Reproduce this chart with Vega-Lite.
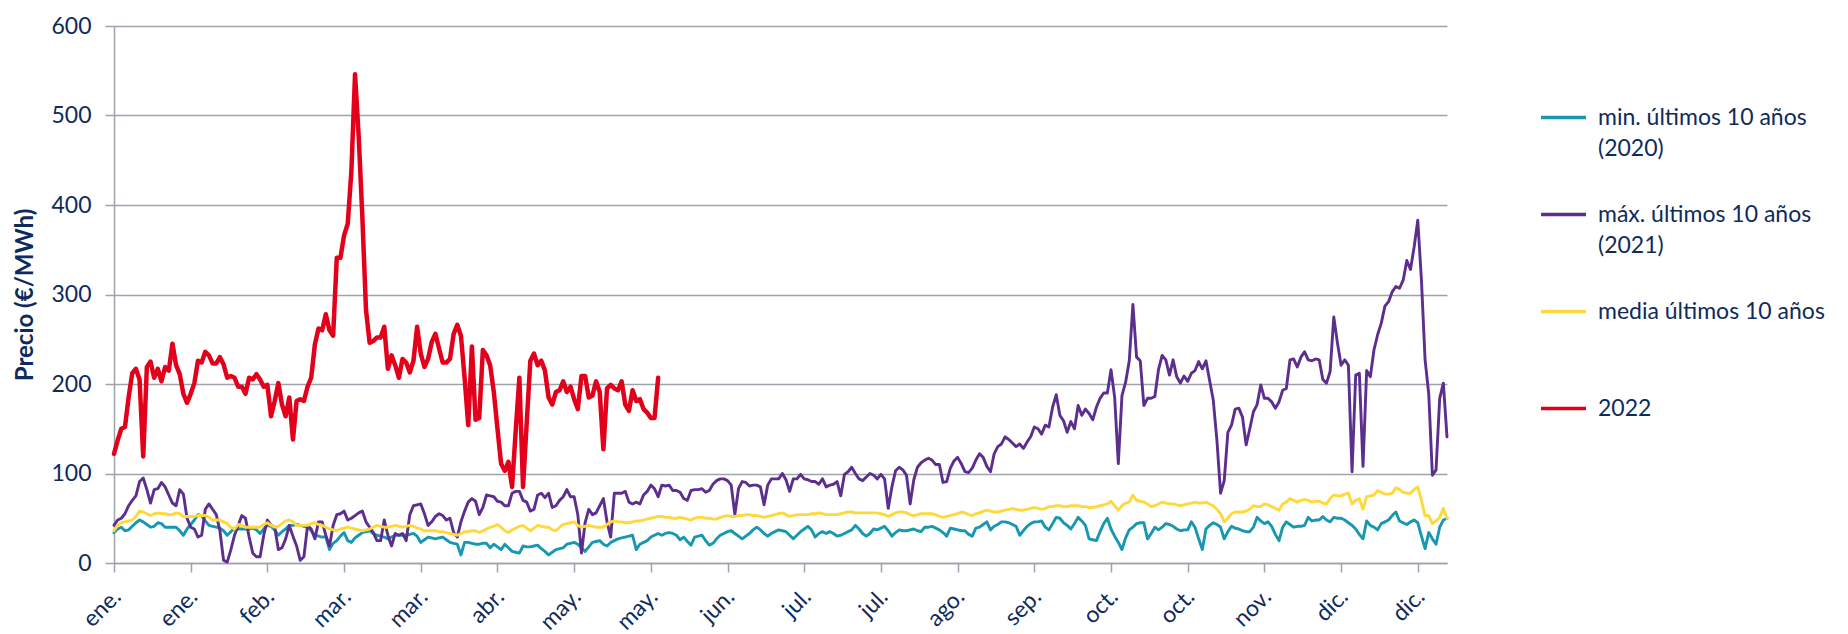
{
"$schema":"https://vega.github.io/schema/vega-lite/v6.json",
"autosize":"none",
"width":1333,"height":537,
"padding":{"left":114,"top":26,"right":401,"bottom":71},
"background":"white",
"config":{"font":"Lato","view":{"stroke":null},"style":{"guide-label":{"lineHeight":31}}},
"datasets":{
"mn":[{"d":1,"v":34},{"d":2,"v":38},{"d":3,"v":40},{"d":4,"v":36},{"d":5,"v":37},{"d":6,"v":41},{"d":7,"v":45},{"d":8,"v":48},{"d":9,"v":46},{"d":10,"v":43},
{"d":11,"v":40},{"d":12,"v":41},{"d":13,"v":45},{"d":14,"v":44},{"d":15,"v":40},{"d":16,"v":40},{"d":17,"v":40},{"d":18,"v":40},{"d":19,"v":36},{"d":20,"v":31},
{"d":21,"v":38},{"d":22,"v":43},{"d":23,"v":48},{"d":24,"v":54},{"d":25,"v":53},{"d":26,"v":47},{"d":27,"v":42},{"d":28,"v":41},{"d":29,"v":40},{"d":30,"v":39},
{"d":31,"v":36},{"d":32,"v":31},{"d":33,"v":35},{"d":34,"v":39},{"d":35,"v":38},{"d":36,"v":38},{"d":37,"v":38},{"d":38,"v":38},{"d":39,"v":39},{"d":40,"v":37},
{"d":41,"v":33},{"d":42,"v":38},{"d":43,"v":42},{"d":44,"v":41},{"d":45,"v":37},{"d":46,"v":31},{"d":47,"v":35},{"d":48,"v":38},{"d":49,"v":42},{"d":50,"v":42},
{"d":51,"v":43},{"d":52,"v":42},{"d":53,"v":41},{"d":54,"v":40},{"d":55,"v":36},{"d":56,"v":31},{"d":57,"v":30},{"d":58,"v":29},{"d":59,"v":29},{"d":60,"v":15},
{"d":61,"v":22},{"d":62,"v":25},{"d":63,"v":30},{"d":64,"v":34},{"d":65,"v":25},{"d":66,"v":23},{"d":67,"v":28},{"d":68,"v":31},{"d":69,"v":34},{"d":70,"v":35},
{"d":71,"v":36},{"d":72,"v":33},{"d":73,"v":31},{"d":74,"v":30},{"d":75,"v":29},{"d":76,"v":27},{"d":77,"v":29},{"d":78,"v":31},{"d":79,"v":31},{"d":80,"v":31},
{"d":81,"v":31},{"d":82,"v":32},{"d":83,"v":33},{"d":84,"v":30},{"d":85,"v":23},{"d":86,"v":26},{"d":87,"v":29},{"d":88,"v":28},{"d":89,"v":27},{"d":90,"v":28},
{"d":91,"v":29},{"d":92,"v":26},{"d":93,"v":23},{"d":94,"v":22},{"d":95,"v":21},{"d":96,"v":9},{"d":97,"v":23},{"d":98,"v":23},{"d":99,"v":22},{"d":100,"v":21},
{"d":101,"v":21},{"d":102,"v":22},{"d":103,"v":22},{"d":104,"v":17},{"d":105,"v":21},{"d":106,"v":18},{"d":107,"v":15},{"d":108,"v":21},{"d":109,"v":17},{"d":110,"v":13},
{"d":111,"v":12},{"d":112,"v":11},{"d":113,"v":19},{"d":114,"v":18},{"d":115,"v":18},{"d":116,"v":19},{"d":117,"v":20},{"d":118,"v":16},{"d":119,"v":13},{"d":120,"v":9},
{"d":121,"v":12},{"d":122,"v":15},{"d":123,"v":16},{"d":124,"v":17},{"d":125,"v":21},{"d":126,"v":22},{"d":127,"v":23},{"d":128,"v":21},{"d":129,"v":17},{"d":130,"v":13},
{"d":131,"v":18},{"d":132,"v":23},{"d":133,"v":24},{"d":134,"v":25},{"d":135,"v":21},{"d":136,"v":19},{"d":137,"v":23},{"d":138,"v":25},{"d":139,"v":27},{"d":140,"v":28},
{"d":141,"v":29},{"d":142,"v":30},{"d":143,"v":31},{"d":144,"v":15},{"d":145,"v":21},{"d":146,"v":23},{"d":147,"v":25},{"d":148,"v":29},{"d":149,"v":31},{"d":150,"v":33},
{"d":151,"v":31},{"d":152,"v":33},{"d":153,"v":34},{"d":154,"v":33},{"d":155,"v":31},{"d":156,"v":26},{"d":157,"v":29},{"d":158,"v":24},{"d":159,"v":20},{"d":160,"v":29},
{"d":161,"v":30},{"d":162,"v":31},{"d":163,"v":25},{"d":164,"v":20},{"d":165,"v":22},{"d":166,"v":27},{"d":167,"v":31},{"d":168,"v":33},{"d":169,"v":35},{"d":170,"v":36},
{"d":171,"v":33},{"d":172,"v":30},{"d":173,"v":27},{"d":174,"v":30},{"d":175,"v":33},{"d":176,"v":37},{"d":177,"v":40},{"d":178,"v":37},{"d":179,"v":33},{"d":180,"v":30},
{"d":181,"v":33},{"d":182,"v":35},{"d":183,"v":37},{"d":184,"v":36},{"d":185,"v":35},{"d":186,"v":31},{"d":187,"v":27},{"d":188,"v":31},{"d":189,"v":35},{"d":190,"v":38},
{"d":191,"v":41},{"d":192,"v":37},{"d":193,"v":29},{"d":194,"v":33},{"d":195,"v":35},{"d":196,"v":33},{"d":197,"v":35},{"d":198,"v":33},{"d":199,"v":30},{"d":200,"v":31},
{"d":201,"v":33},{"d":202,"v":35},{"d":203,"v":37},{"d":204,"v":42},{"d":205,"v":38},{"d":206,"v":33},{"d":207,"v":30},{"d":208,"v":33},{"d":209,"v":38},{"d":210,"v":37},
{"d":211,"v":39},{"d":212,"v":41},{"d":213,"v":36},{"d":214,"v":30},{"d":215,"v":34},{"d":216,"v":37},{"d":217,"v":36},{"d":218,"v":36},{"d":219,"v":37},{"d":220,"v":38},
{"d":221,"v":36},{"d":222,"v":35},{"d":223,"v":40},{"d":224,"v":40},{"d":225,"v":41},{"d":226,"v":39},{"d":227,"v":37},{"d":228,"v":34},{"d":229,"v":30},{"d":230,"v":39},
{"d":231,"v":38},{"d":232,"v":37},{"d":233,"v":36},{"d":234,"v":36},{"d":235,"v":32},{"d":236,"v":30},{"d":237,"v":39},{"d":238,"v":40},{"d":239,"v":43},{"d":240,"v":46},
{"d":241,"v":37},{"d":242,"v":41},{"d":243,"v":43},{"d":244,"v":46},{"d":245,"v":46},{"d":246,"v":45},{"d":247,"v":43},{"d":248,"v":41},{"d":249,"v":31},{"d":250,"v":36},
{"d":251,"v":41},{"d":252,"v":44},{"d":253,"v":46},{"d":254,"v":46},{"d":255,"v":47},{"d":256,"v":40},{"d":257,"v":37},{"d":258,"v":44},{"d":259,"v":51},{"d":260,"v":50},
{"d":261,"v":45},{"d":262,"v":42},{"d":263,"v":38},{"d":264,"v":44},{"d":265,"v":51},{"d":266,"v":47},{"d":267,"v":42},{"d":268,"v":27},{"d":269,"v":26},{"d":270,"v":25},
{"d":271,"v":35},{"d":272,"v":44},{"d":273,"v":50},{"d":274,"v":38},{"d":275,"v":30},{"d":276,"v":23},{"d":277,"v":15},{"d":278,"v":28},{"d":279,"v":37},{"d":280,"v":40},
{"d":281,"v":44},{"d":282,"v":45},{"d":283,"v":45},{"d":284,"v":27},{"d":285,"v":33},{"d":286,"v":40},{"d":287,"v":37},{"d":288,"v":40},{"d":289,"v":44},{"d":290,"v":43},
{"d":291,"v":41},{"d":292,"v":38},{"d":293,"v":36},{"d":294,"v":37},{"d":295,"v":37},{"d":296,"v":46},{"d":297,"v":40},{"d":298,"v":27},{"d":299,"v":15},{"d":300,"v":38},
{"d":301,"v":42},{"d":302,"v":45},{"d":303,"v":43},{"d":304,"v":40},{"d":305,"v":27},{"d":306,"v":35},{"d":307,"v":41},{"d":308,"v":39},{"d":309,"v":38},{"d":310,"v":36},
{"d":311,"v":35},{"d":312,"v":35},{"d":313,"v":40},{"d":314,"v":51},{"d":315,"v":47},{"d":316,"v":44},{"d":317,"v":46},{"d":318,"v":41},{"d":319,"v":32},{"d":320,"v":25},
{"d":321,"v":40},{"d":322,"v":46},{"d":323,"v":43},{"d":324,"v":40},{"d":325,"v":41},{"d":326,"v":41},{"d":327,"v":42},{"d":328,"v":51},{"d":329,"v":47},{"d":330,"v":48},
{"d":331,"v":48},{"d":332,"v":52},{"d":333,"v":48},{"d":334,"v":46},{"d":335,"v":51},{"d":336,"v":50},{"d":337,"v":50},{"d":338,"v":48},{"d":339,"v":45},{"d":340,"v":42},
{"d":341,"v":38},{"d":342,"v":32},{"d":343,"v":27},{"d":344,"v":47},{"d":345,"v":42},{"d":346,"v":40},{"d":347,"v":37},{"d":348,"v":44},{"d":349,"v":46},{"d":350,"v":48},
{"d":351,"v":53},{"d":352,"v":57},{"d":353,"v":47},{"d":354,"v":45},{"d":355,"v":43},{"d":356,"v":46},{"d":357,"v":48},{"d":358,"v":45},{"d":359,"v":30},{"d":360,"v":16},
{"d":361,"v":34},{"d":362,"v":27},{"d":363,"v":21},{"d":364,"v":40},{"d":365,"v":48},{"d":366,"v":50}],
"mx":[{"d":1,"v":42},{"d":2,"v":48},{"d":3,"v":50},{"d":4,"v":55},{"d":5,"v":64},{"d":6,"v":70},{"d":7,"v":75},{"d":8,"v":91},{"d":9,"v":95},{"d":10,"v":82},
{"d":11,"v":67},{"d":12,"v":82},{"d":13,"v":83},{"d":14,"v":90},{"d":15,"v":85},{"d":16,"v":76},{"d":17,"v":67},{"d":18,"v":64},{"d":19,"v":82},{"d":20,"v":77},
{"d":21,"v":50},{"d":22,"v":40},{"d":23,"v":38},{"d":24,"v":29},{"d":25,"v":31},{"d":26,"v":60},{"d":27,"v":66},{"d":28,"v":60},{"d":29,"v":54},{"d":30,"v":36},
{"d":31,"v":3},{"d":32,"v":1},{"d":33,"v":15},{"d":34,"v":31},{"d":35,"v":42},{"d":36,"v":53},{"d":37,"v":50},{"d":38,"v":29},{"d":39,"v":11},{"d":40,"v":7},
{"d":41,"v":7},{"d":42,"v":31},{"d":43,"v":48},{"d":44,"v":42},{"d":45,"v":40},{"d":46,"v":15},{"d":47,"v":17},{"d":48,"v":27},{"d":49,"v":42},{"d":50,"v":30},
{"d":51,"v":19},{"d":52,"v":3},{"d":53,"v":7},{"d":54,"v":42},{"d":55,"v":38},{"d":56,"v":27},{"d":57,"v":46},{"d":58,"v":46},{"d":59,"v":31},{"d":60,"v":19},
{"d":61,"v":42},{"d":62,"v":54},{"d":63,"v":55},{"d":64,"v":58},{"d":65,"v":48},{"d":66,"v":50},{"d":67,"v":53},{"d":68,"v":56},{"d":69,"v":58},{"d":70,"v":46},
{"d":71,"v":40},{"d":72,"v":34},{"d":73,"v":25},{"d":74,"v":25},{"d":75,"v":48},{"d":76,"v":31},{"d":77,"v":19},{"d":78,"v":33},{"d":79,"v":31},{"d":80,"v":33},
{"d":81,"v":25},{"d":82,"v":54},{"d":83,"v":64},{"d":84,"v":65},{"d":85,"v":66},{"d":86,"v":55},{"d":87,"v":42},{"d":88,"v":46},{"d":89,"v":52},{"d":90,"v":55},
{"d":91,"v":53},{"d":92,"v":48},{"d":93,"v":50},{"d":94,"v":34},{"d":95,"v":29},{"d":96,"v":46},{"d":97,"v":58},{"d":98,"v":68},{"d":99,"v":72},{"d":100,"v":69},
{"d":101,"v":54},{"d":102,"v":62},{"d":103,"v":76},{"d":104,"v":75},{"d":105,"v":74},{"d":106,"v":69},{"d":107,"v":68},{"d":108,"v":64},{"d":109,"v":64},{"d":110,"v":78},
{"d":111,"v":80},{"d":112,"v":80},{"d":113,"v":70},{"d":114,"v":68},{"d":115,"v":58},{"d":116,"v":60},{"d":117,"v":76},{"d":118,"v":78},{"d":119,"v":73},{"d":120,"v":78},
{"d":121,"v":62},{"d":122,"v":64},{"d":123,"v":70},{"d":124,"v":74},{"d":125,"v":82},{"d":126,"v":74},{"d":127,"v":74},{"d":128,"v":54},{"d":129,"v":11},{"d":130,"v":45},
{"d":131,"v":60},{"d":132,"v":54},{"d":133,"v":56},{"d":134,"v":64},{"d":135,"v":72},{"d":136,"v":46},{"d":137,"v":29},{"d":138,"v":78},{"d":139,"v":78},{"d":140,"v":78},
{"d":141,"v":80},{"d":142,"v":68},{"d":143,"v":66},{"d":144,"v":68},{"d":145,"v":66},{"d":146,"v":76},{"d":147,"v":80},{"d":148,"v":87},{"d":149,"v":83},{"d":150,"v":74},
{"d":151,"v":87},{"d":152,"v":86},{"d":153,"v":87},{"d":154,"v":81},{"d":155,"v":81},{"d":156,"v":79},{"d":157,"v":72},{"d":158,"v":70},{"d":159,"v":81},{"d":160,"v":82},
{"d":161,"v":82},{"d":162,"v":83},{"d":163,"v":79},{"d":164,"v":81},{"d":165,"v":88},{"d":166,"v":92},{"d":167,"v":94},{"d":168,"v":94},{"d":169,"v":92},{"d":170,"v":87},
{"d":171,"v":54},{"d":172,"v":83},{"d":173,"v":91},{"d":174,"v":90},{"d":175,"v":86},{"d":176,"v":87},{"d":177,"v":87},{"d":178,"v":85},{"d":179,"v":65},{"d":180,"v":87},
{"d":181,"v":94},{"d":182,"v":94},{"d":183,"v":94},{"d":184,"v":100},{"d":185,"v":93},{"d":186,"v":80},{"d":187,"v":94},{"d":188,"v":94},{"d":189,"v":99},{"d":190,"v":94},
{"d":191,"v":93},{"d":192,"v":91},{"d":193,"v":91},{"d":194,"v":88},{"d":195,"v":94},{"d":196,"v":85},{"d":197,"v":87},{"d":198,"v":88},{"d":199,"v":91},{"d":200,"v":75},
{"d":201,"v":99},{"d":202,"v":102},{"d":203,"v":107},{"d":204,"v":100},{"d":205,"v":94},{"d":206,"v":92},{"d":207,"v":96},{"d":208,"v":100},{"d":209,"v":98},{"d":210,"v":94},
{"d":211,"v":99},{"d":212,"v":94},{"d":213,"v":61},{"d":214,"v":85},{"d":215,"v":103},{"d":216,"v":107},{"d":217,"v":104},{"d":218,"v":98},{"d":219,"v":66},{"d":220,"v":93},
{"d":221,"v":107},{"d":222,"v":112},{"d":223,"v":115},{"d":224,"v":117},{"d":225,"v":115},{"d":226,"v":110},{"d":227,"v":110},{"d":228,"v":90},{"d":229,"v":91},{"d":230,"v":106},
{"d":231,"v":114},{"d":232,"v":118},{"d":233,"v":111},{"d":234,"v":102},{"d":235,"v":101},{"d":236,"v":106},{"d":237,"v":115},{"d":238,"v":122},{"d":239,"v":118},{"d":240,"v":108},
{"d":241,"v":102},{"d":242,"v":122},{"d":243,"v":130},{"d":244,"v":133},{"d":245,"v":141},{"d":246,"v":138},{"d":247,"v":134},{"d":248,"v":130},{"d":249,"v":133},{"d":250,"v":128},
{"d":251,"v":135},{"d":252,"v":141},{"d":253,"v":152},{"d":254,"v":150},{"d":255,"v":144},{"d":256,"v":154},{"d":257,"v":152},{"d":258,"v":174},{"d":259,"v":188},{"d":260,"v":165},
{"d":261,"v":159},{"d":262,"v":146},{"d":263,"v":158},{"d":264,"v":150},{"d":265,"v":176},{"d":266,"v":165},{"d":267,"v":172},{"d":268,"v":167},{"d":269,"v":160},{"d":270,"v":174},
{"d":271,"v":184},{"d":272,"v":190},{"d":273,"v":190},{"d":274,"v":216},{"d":275,"v":185},{"d":276,"v":111},{"d":277,"v":187},{"d":278,"v":202},{"d":279,"v":226},{"d":280,"v":289},
{"d":281,"v":230},{"d":282,"v":226},{"d":283,"v":176},{"d":284,"v":184},{"d":285,"v":184},{"d":286,"v":186},{"d":287,"v":216},{"d":288,"v":232},{"d":289,"v":227},{"d":290,"v":210},
{"d":291,"v":227},{"d":292,"v":208},{"d":293,"v":201},{"d":294,"v":209},{"d":295,"v":203},{"d":296,"v":212},{"d":297,"v":215},{"d":298,"v":225},{"d":299,"v":217},{"d":300,"v":226},
{"d":301,"v":204},{"d":302,"v":182},{"d":303,"v":137},{"d":304,"v":78},{"d":305,"v":92},{"d":306,"v":146},{"d":307,"v":154},{"d":308,"v":172},{"d":309,"v":173},{"d":310,"v":163},
{"d":311,"v":132},{"d":312,"v":150},{"d":313,"v":169},{"d":314,"v":177},{"d":315,"v":199},{"d":316,"v":184},{"d":317,"v":184},{"d":318,"v":180},{"d":319,"v":173},{"d":320,"v":180},
{"d":321,"v":193},{"d":322,"v":195},{"d":323,"v":227},{"d":324,"v":228},{"d":325,"v":219},{"d":326,"v":230},{"d":327,"v":236},{"d":328,"v":227},{"d":329,"v":226},{"d":330,"v":228},
{"d":331,"v":227},{"d":332,"v":205},{"d":333,"v":201},{"d":334,"v":214},{"d":335,"v":275},{"d":336,"v":246},{"d":337,"v":221},{"d":338,"v":227},{"d":339,"v":221},{"d":340,"v":102},
{"d":341,"v":210},{"d":342,"v":212},{"d":343,"v":108},{"d":344,"v":215},{"d":345,"v":208},{"d":346,"v":238},{"d":347,"v":255},{"d":348,"v":268},{"d":349,"v":287},{"d":350,"v":292},
{"d":351,"v":303},{"d":352,"v":309},{"d":353,"v":307},{"d":354,"v":316},{"d":355,"v":338},{"d":356,"v":328},{"d":357,"v":353},{"d":358,"v":383},{"d":359,"v":316},{"d":360,"v":227},
{"d":361,"v":189},{"d":362,"v":98},{"d":363,"v":104},{"d":364,"v":184},{"d":365,"v":201},{"d":366,"v":141}],
"me":[{"d":1,"v":36},{"d":2,"v":42},{"d":3,"v":45},{"d":4,"v":46},{"d":5,"v":47},{"d":6,"v":48},{"d":7,"v":52},{"d":8,"v":58},{"d":9,"v":57},{"d":10,"v":55},
{"d":11,"v":53},{"d":12,"v":55},{"d":13,"v":56},{"d":14,"v":55},{"d":15,"v":55},{"d":16,"v":54},{"d":17,"v":54},{"d":18,"v":56},{"d":19,"v":55},{"d":20,"v":52},
{"d":21,"v":52},{"d":22,"v":52},{"d":23,"v":52},{"d":24,"v":53},{"d":25,"v":53},{"d":26,"v":53},{"d":27,"v":51},{"d":28,"v":48},{"d":29,"v":48},{"d":30,"v":48},
{"d":31,"v":46},{"d":32,"v":44},{"d":33,"v":40},{"d":34,"v":38},{"d":35,"v":43},{"d":36,"v":42},{"d":37,"v":40},{"d":38,"v":40},{"d":39,"v":40},{"d":40,"v":40},
{"d":41,"v":40},{"d":42,"v":43},{"d":43,"v":45},{"d":44,"v":42},{"d":45,"v":40},{"d":46,"v":41},{"d":47,"v":44},{"d":48,"v":47},{"d":49,"v":48},{"d":50,"v":46},
{"d":51,"v":42},{"d":52,"v":42},{"d":53,"v":42},{"d":54,"v":42},{"d":55,"v":44},{"d":56,"v":45},{"d":57,"v":43},{"d":58,"v":42},{"d":59,"v":40},{"d":60,"v":38},
{"d":61,"v":37},{"d":62,"v":36},{"d":63,"v":38},{"d":64,"v":39},{"d":65,"v":40},{"d":66,"v":39},{"d":67,"v":38},{"d":68,"v":37},{"d":69,"v":36},{"d":70,"v":37},
{"d":71,"v":38},{"d":72,"v":40},{"d":73,"v":42},{"d":74,"v":41},{"d":75,"v":40},{"d":76,"v":40},{"d":77,"v":41},{"d":78,"v":42},{"d":79,"v":41},{"d":80,"v":40},
{"d":81,"v":41},{"d":82,"v":42},{"d":83,"v":41},{"d":84,"v":39},{"d":85,"v":38},{"d":86,"v":36},{"d":87,"v":36},{"d":88,"v":36},{"d":89,"v":36},{"d":90,"v":35},
{"d":91,"v":35},{"d":92,"v":34},{"d":93,"v":33},{"d":94,"v":32},{"d":95,"v":31},{"d":96,"v":33},{"d":97,"v":35},{"d":98,"v":35},{"d":99,"v":36},{"d":100,"v":36},
{"d":101,"v":34},{"d":102,"v":36},{"d":103,"v":38},{"d":104,"v":40},{"d":105,"v":41},{"d":106,"v":43},{"d":107,"v":40},{"d":108,"v":36},{"d":109,"v":34},{"d":110,"v":37},
{"d":111,"v":39},{"d":112,"v":41},{"d":113,"v":42},{"d":114,"v":39},{"d":115,"v":36},{"d":116,"v":39},{"d":117,"v":42},{"d":118,"v":41},{"d":119,"v":40},{"d":120,"v":40},
{"d":121,"v":37},{"d":122,"v":36},{"d":123,"v":40},{"d":124,"v":43},{"d":125,"v":44},{"d":126,"v":45},{"d":127,"v":46},{"d":128,"v":42},{"d":129,"v":40},{"d":130,"v":41},
{"d":131,"v":42},{"d":132,"v":41},{"d":133,"v":40},{"d":134,"v":40},{"d":135,"v":40},{"d":136,"v":43},{"d":137,"v":46},{"d":138,"v":47},{"d":139,"v":46},{"d":140,"v":46},
{"d":141,"v":45},{"d":142,"v":45},{"d":143,"v":46},{"d":144,"v":47},{"d":145,"v":47},{"d":146,"v":48},{"d":147,"v":49},{"d":148,"v":50},{"d":149,"v":51},{"d":150,"v":52},
{"d":151,"v":52},{"d":152,"v":51},{"d":153,"v":51},{"d":154,"v":50},{"d":155,"v":50},{"d":156,"v":51},{"d":157,"v":50},{"d":158,"v":49},{"d":159,"v":48},{"d":160,"v":50},
{"d":161,"v":51},{"d":162,"v":51},{"d":163,"v":50},{"d":164,"v":50},{"d":165,"v":49},{"d":166,"v":49},{"d":167,"v":51},{"d":168,"v":52},{"d":169,"v":53},{"d":170,"v":52},
{"d":171,"v":52},{"d":172,"v":53},{"d":173,"v":53},{"d":174,"v":54},{"d":175,"v":54},{"d":176,"v":53},{"d":177,"v":53},{"d":178,"v":52},{"d":179,"v":51},{"d":180,"v":52},
{"d":181,"v":53},{"d":182,"v":54},{"d":183,"v":55},{"d":184,"v":56},{"d":185,"v":54},{"d":186,"v":52},{"d":187,"v":53},{"d":188,"v":54},{"d":189,"v":54},{"d":190,"v":54},
{"d":191,"v":54},{"d":192,"v":55},{"d":193,"v":55},{"d":194,"v":56},{"d":195,"v":55},{"d":196,"v":54},{"d":197,"v":54},{"d":198,"v":54},{"d":199,"v":54},{"d":200,"v":55},
{"d":201,"v":56},{"d":202,"v":57},{"d":203,"v":57},{"d":204,"v":56},{"d":205,"v":56},{"d":206,"v":56},{"d":207,"v":56},{"d":208,"v":56},{"d":209,"v":56},{"d":210,"v":56},
{"d":211,"v":55},{"d":212,"v":54},{"d":213,"v":52},{"d":214,"v":54},{"d":215,"v":56},{"d":216,"v":57},{"d":217,"v":57},{"d":218,"v":56},{"d":219,"v":54},{"d":220,"v":53},
{"d":221,"v":54},{"d":222,"v":55},{"d":223,"v":55},{"d":224,"v":55},{"d":225,"v":55},{"d":226,"v":54},{"d":227,"v":52},{"d":228,"v":51},{"d":229,"v":52},{"d":230,"v":53},
{"d":231,"v":54},{"d":232,"v":55},{"d":233,"v":57},{"d":234,"v":56},{"d":235,"v":54},{"d":236,"v":53},{"d":237,"v":55},{"d":238,"v":56},{"d":239,"v":58},{"d":240,"v":59},
{"d":241,"v":58},{"d":242,"v":57},{"d":243,"v":57},{"d":244,"v":58},{"d":245,"v":59},{"d":246,"v":60},{"d":247,"v":61},{"d":248,"v":60},{"d":249,"v":59},{"d":250,"v":59},
{"d":251,"v":60},{"d":252,"v":61},{"d":253,"v":62},{"d":254,"v":61},{"d":255,"v":60},{"d":256,"v":61},{"d":257,"v":63},{"d":258,"v":63},{"d":259,"v":64},{"d":260,"v":64},
{"d":261,"v":63},{"d":262,"v":63},{"d":263,"v":64},{"d":264,"v":64},{"d":265,"v":64},{"d":266,"v":63},{"d":267,"v":63},{"d":268,"v":62},{"d":269,"v":62},{"d":270,"v":63},
{"d":271,"v":64},{"d":272,"v":65},{"d":273,"v":66},{"d":274,"v":69},{"d":275,"v":64},{"d":276,"v":59},{"d":277,"v":64},{"d":278,"v":67},{"d":279,"v":68},{"d":280,"v":76},
{"d":281,"v":70},{"d":282,"v":69},{"d":283,"v":68},{"d":284,"v":66},{"d":285,"v":63},{"d":286,"v":64},{"d":287,"v":66},{"d":288,"v":68},{"d":289,"v":67},{"d":290,"v":66},
{"d":291,"v":66},{"d":292,"v":65},{"d":293,"v":64},{"d":294,"v":65},{"d":295,"v":66},{"d":296,"v":67},{"d":297,"v":68},{"d":298,"v":67},{"d":299,"v":67},{"d":300,"v":68},
{"d":301,"v":66},{"d":302,"v":64},{"d":303,"v":60},{"d":304,"v":55},{"d":305,"v":46},{"d":306,"v":50},{"d":307,"v":55},{"d":308,"v":57},{"d":309,"v":57},{"d":310,"v":57},
{"d":311,"v":58},{"d":312,"v":60},{"d":313,"v":64},{"d":314,"v":63},{"d":315,"v":63},{"d":316,"v":66},{"d":317,"v":65},{"d":318,"v":63},{"d":319,"v":61},{"d":320,"v":59},
{"d":321,"v":66},{"d":322,"v":68},{"d":323,"v":72},{"d":324,"v":70},{"d":325,"v":68},{"d":326,"v":70},{"d":327,"v":71},{"d":328,"v":70},{"d":329,"v":68},{"d":330,"v":69},
{"d":331,"v":69},{"d":332,"v":67},{"d":333,"v":66},{"d":334,"v":72},{"d":335,"v":76},{"d":336,"v":75},{"d":337,"v":75},{"d":338,"v":77},{"d":339,"v":78},{"d":340,"v":66},
{"d":341,"v":70},{"d":342,"v":72},{"d":343,"v":60},{"d":344,"v":74},{"d":345,"v":75},{"d":346,"v":76},{"d":347,"v":81},{"d":348,"v":79},{"d":349,"v":77},{"d":350,"v":77},
{"d":351,"v":78},{"d":352,"v":84},{"d":353,"v":82},{"d":354,"v":79},{"d":355,"v":78},{"d":356,"v":78},{"d":357,"v":82},{"d":358,"v":85},{"d":359,"v":70},{"d":360,"v":53},
{"d":361,"v":53},{"d":362,"v":44},{"d":363,"v":47},{"d":364,"v":51},{"d":365,"v":61},{"d":366,"v":50}],
"r":[{"d":1,"v":122},{"d":2,"v":137},{"d":3,"v":150},{"d":4,"v":152},{"d":5,"v":185},{"d":6,"v":212},{"d":7,"v":217},{"d":8,"v":205},{"d":9,"v":119},{"d":10,"v":219},
{"d":11,"v":225},{"d":12,"v":207},{"d":13,"v":217},{"d":14,"v":203},{"d":15,"v":219},{"d":16,"v":215},{"d":17,"v":245},{"d":18,"v":221},{"d":19,"v":211},{"d":20,"v":189},
{"d":21,"v":179},{"d":22,"v":189},{"d":23,"v":201},{"d":24,"v":226},{"d":25,"v":224},{"d":26,"v":236},{"d":27,"v":232},{"d":28,"v":223},{"d":29,"v":223},{"d":30,"v":230},
{"d":31,"v":222},{"d":32,"v":207},{"d":33,"v":209},{"d":34,"v":207},{"d":35,"v":197},{"d":36,"v":197},{"d":37,"v":189},{"d":38,"v":207},{"d":39,"v":205},{"d":40,"v":211},
{"d":41,"v":205},{"d":42,"v":197},{"d":43,"v":199},{"d":44,"v":164},{"d":45,"v":181},{"d":46,"v":201},{"d":47,"v":177},{"d":48,"v":164},{"d":49,"v":185},{"d":50,"v":138},
{"d":51,"v":181},{"d":52,"v":183},{"d":53,"v":181},{"d":54,"v":197},{"d":55,"v":207},{"d":56,"v":244},{"d":57,"v":262},{"d":58,"v":260},{"d":59,"v":278},{"d":60,"v":260},
{"d":61,"v":254},{"d":62,"v":341},{"d":63,"v":341},{"d":64,"v":366},{"d":65,"v":379},{"d":66,"v":438},{"d":67,"v":546},{"d":68,"v":477},{"d":69,"v":387},{"d":70,"v":283},
{"d":71,"v":246},{"d":72,"v":248},{"d":73,"v":252},{"d":74,"v":252},{"d":75,"v":264},{"d":76,"v":217},{"d":77,"v":232},{"d":78,"v":221},{"d":79,"v":207},{"d":80,"v":228},
{"d":81,"v":224},{"d":82,"v":213},{"d":83,"v":226},{"d":84,"v":264},{"d":85,"v":234},{"d":86,"v":219},{"d":87,"v":228},{"d":88,"v":247},{"d":89,"v":256},{"d":90,"v":240},
{"d":91,"v":224},{"d":92,"v":224},{"d":93,"v":228},{"d":94,"v":256},{"d":95,"v":266},{"d":96,"v":254},{"d":97,"v":207},{"d":98,"v":154},{"d":99,"v":242},{"d":100,"v":160},
{"d":101,"v":162},{"d":102,"v":238},{"d":103,"v":232},{"d":104,"v":221},{"d":105,"v":191},{"d":106,"v":150},{"d":107,"v":111},{"d":108,"v":103},{"d":109,"v":113},{"d":110,"v":85},
{"d":111,"v":148},{"d":112,"v":207},{"d":113,"v":85},{"d":114,"v":156},{"d":115,"v":226},{"d":116,"v":234},{"d":117,"v":221},{"d":118,"v":226},{"d":119,"v":215},{"d":120,"v":185},
{"d":121,"v":177},{"d":122,"v":191},{"d":123,"v":193},{"d":124,"v":203},{"d":125,"v":191},{"d":126,"v":197},{"d":127,"v":183},{"d":128,"v":172},{"d":129,"v":209},{"d":130,"v":209},
{"d":131,"v":185},{"d":132,"v":187},{"d":133,"v":203},{"d":134,"v":191},{"d":135,"v":127},{"d":136,"v":195},{"d":137,"v":199},{"d":138,"v":195},{"d":139,"v":193},{"d":140,"v":203},
{"d":141,"v":177},{"d":142,"v":170},{"d":143,"v":193},{"d":144,"v":181},{"d":145,"v":183},{"d":146,"v":172},{"d":147,"v":168},{"d":148,"v":162},{"d":149,"v":162},{"d":150,"v":207}]
},
"encoding":{
"x":{"field":"d","type":"quantitative","scale":{"domain":[1,366],"nice":false,"zero":false},
"axis":{"values":[1,22,43,64,85,106,127,148,169,190,211,232,253,274,295,316,337,358],
"labelExpr":"['ene.','ene.','feb.','mar.','mar.','abr.','may.','may.','jun.','jul.','jul.','ago.','sep.','oct.','oct.','nov.','dic.','dic.'][round((datum.value-1)/21)]",
"labelAngle":-45,"labelAlign":"right","labelBaseline":"top","labelFontSize":23,"labelColor":"#0E2B5C","labelPadding":13,"labelOffset":-5,"labelOverlap":false,"labelFlush":false,"labelBound":false,
"tickSize":9,"tickColor":"#9EA2AA","tickWidth":1.5,"domainColor":"#9EA2AA","domainWidth":1.5,"grid":false,"title":null}},
"y":{"field":"v","type":"quantitative","scale":{"domain":[0,600],"nice":false},
"axis":{"values":[0,100,200,300,400,500,600],"grid":true,"gridColor":"#9EA2AA","gridWidth":1.5,"domainColor":"#9EA2AA","domainWidth":1.5,
"tickSize":9,"tickColor":"#9EA2AA","tickWidth":1.5,"labelFontSize":23,"labelColor":"#0E2B5C","labelPadding":14,"labelFlush":false,
"title":"Precio (€/MWh)","titleFontSize":24,"titleFontWeight":"bold","titleColor":"#0E2B5C","titlePadding":13}}
},
"layer":[
{"data":{"name":"mn"},"mark":{"type":"line","strokeWidth":2.9,"strokeJoin":"round","strokeCap":"round"},
"encoding":{"color":{"datum":"min","type":"nominal","scale":{"domain":["min","max","media","2022"],"range":["#1797B0","#5C2E8E","#FFD93B","#E3001B"]},
"legend":{"orient":"none","legendX":1425,"legendY":67,"direction":"vertical","title":null,"padding":0,
"labelExpr":"datum.label == 'min' ? ['min. últimos 10 años','(2020)'] : datum.label == 'max' ? ['máx. últimos 10 años','(2021)'] : datum.label == 'media' ? ['media últimos 10 años',''] : ['2022','']",
"labelLimit":400,"labelFontSize":23,"labelColor":"#0E2B5C","labelBaseline":"middle","labelOffset":10,
"symbolType":"stroke","symbolSize":2025,"symbolStrokeWidth":3.5,"rowPadding":29}}}},
{"data":{"name":"mx"},"mark":{"type":"line","strokeWidth":2.9,"strokeJoin":"round","strokeCap":"round"},
"encoding":{"color":{"datum":"max","type":"nominal","scale":{"domain":["min","max","media","2022"],"range":["#1797B0","#5C2E8E","#FFD93B","#E3001B"]}}}},
{"data":{"name":"me"},"mark":{"type":"line","strokeWidth":2.9,"strokeJoin":"round","strokeCap":"round"},
"encoding":{"color":{"datum":"media","type":"nominal","scale":{"domain":["min","max","media","2022"],"range":["#1797B0","#5C2E8E","#FFD93B","#E3001B"]}}}},
{"data":{"name":"r"},"mark":{"type":"line","strokeWidth":4.5,"strokeJoin":"round","strokeCap":"round"},
"encoding":{"color":{"datum":"2022","type":"nominal","scale":{"domain":["min","max","media","2022"],"range":["#1797B0","#5C2E8E","#FFD93B","#E3001B"]}}}}
]
}
